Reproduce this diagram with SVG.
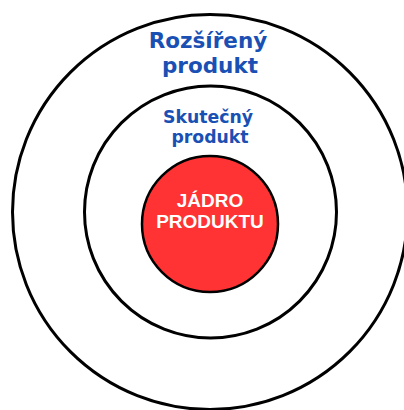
<svg xmlns="http://www.w3.org/2000/svg" width="404" height="410" viewBox="0 0 404 410">
<style>
.ring{fill:none;stroke:#000;stroke-width:3}
.lbl{font-family:"DejaVu Sans",sans-serif;font-weight:700;fill:#1a50b4;text-anchor:middle}
.core{font-family:"Liberation Sans",Arial,sans-serif;font-weight:700;fill:#fff;text-anchor:middle;font-size:19px}
</style>
<rect width="404" height="410" fill="#fff"/>
<g id="rozsireny">
<circle class="ring" cx="210" cy="212" r="197.5"/>
<text class="lbl" x="208" y="48" font-size="21.5">Rozšířený</text>
<text class="lbl" x="210" y="73" font-size="21.5">produkt</text>
</g>
<g id="skutecny">
<circle class="ring" cx="210.5" cy="212" r="126"/>
<text class="lbl" x="208" y="123" font-size="17.3">Skutečný</text>
<text class="lbl" x="210" y="143" font-size="17.3">produkt</text>
</g>
<g id="jadro">
<circle cx="210" cy="224" r="68" fill="#ff3333" stroke="#000" stroke-width="2.5"/>
<text class="core" x="210" y="207">JÁDRO</text>
<text class="core" x="210" y="228">PRODUKTU</text>
</g>
<g id="connectors"/>
</svg>
